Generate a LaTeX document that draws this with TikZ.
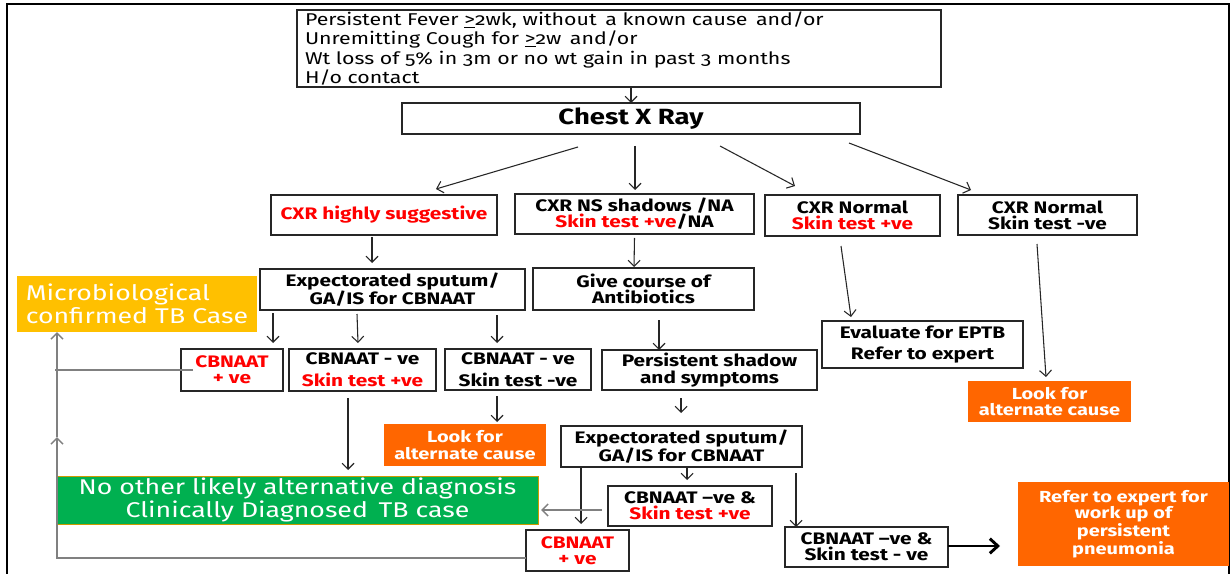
\documentclass[tikz,border=0pt]{standalone}
\usepackage{fontspec}
\setmainfont{Fira Sans}[Numbers=OldStyle, FakeStretch=1.25]
\usetikzlibrary{arrows.meta}
\definecolor{tbred}{HTML}{FF0000}
\definecolor{tborange}{HTML}{FF6600}
\definecolor{tbyellow}{HTML}{FFC000}
\definecolor{tbgreen}{HTML}{00B050}
\definecolor{tbgray}{HTML}{808080}
\definecolor{tbline}{HTML}{262626}
% box placed by its pixel corners: name, x1, y1, x2, y2, style, text
\newcommand\pbox[7]{\node[#6, minimum width={(#4-#2)*0.75pt}, minimum height={(#5-#3)*0.75pt}] (#1) at ({(#2+#4)/2},{(#3+#5)/2}) {#7};}
\newcommand\rd[1]{\textcolor{tbred}{#1}}
\begin{document}
\begin{tikzpicture}[x=0.75pt,y=-0.75pt,
  flowbox/.style={draw=tbline, line width=1.1pt, inner sep=0pt, outer sep=0pt, align=center,
    font=\bfseries\fontsize{12.5}{12.2}\selectfont},
  fillbox/.style={inner sep=0pt, outer sep=0pt, align=center, text=white},
  orangebox/.style={fillbox, fill=tborange, font=\bfseries\fontsize{12}{12.5}\selectfont},
  arr/.style={draw=tbline, line width=0.8pt, -{Straight Barb[length=4.5pt,width=9pt]}},
  grayarr/.style={draw=tbgray, line width=1.1pt, -{Straight Barb[length=4.5pt,width=9pt]}},
  grayline/.style={draw=tbgray, line width=1.1pt},
  thickarr/.style={draw=black, line width=2.2pt, -{Straight Barb[length=6pt,width=11pt]}}]
\useasboundingbox (0,0) rectangle (1232,574);
\fill[white] (0,0) rectangle (1232,574);

% outer frame
\draw[line width=1.6pt, black] (7,580) -- (7,4) -- (1229,4) -- (1229,580);

% boxes
\node[draw=tbline, line width=0.9pt, inner xsep=6pt, inner ysep=0pt, outer sep=0pt,
  minimum height={77*0.75pt}, text width={(644-16)*0.75pt}, align=left,
  font=\fontsize{12.8}{14.6}\selectfont] (top) at (619,48.5)
  {Persistent Fever \underline{>}2wk, without\, a known cause\, and/or\\
   Unremitting Cough for \underline{>}2w\, and/or\\
   Wt loss of 5\% in 3m or no wt gain in past 3 months\\
   H/o contact};
\pbox{cxr}{402}{103}{860}{134}{flowbox, font=\bfseries\fontsize{16.5}{17}\selectfont}{Chest X Ray}
\pbox{hs}{271}{195}{497}{235}{flowbox}{\rd{CXR highly suggestive}}
\pbox{ns}{515}{194}{754}{234}{flowbox}{CXR NS shadows /NA\\\rd{Skin test +ve}/NA}
\pbox{cnp}{765}{195}{940}{236}{flowbox}{CXR Normal\\\rd{Skin test +ve}}
\pbox{cnn}{958}{195}{1137}{235}{flowbox}{CXR Normal\\Skin test -ve}
\pbox{spa}{260}{269}{525}{310}{flowbox}{Expectorated sputum/\\GA/IS for CBNAAT}
\pbox{abx}{533}{268}{754}{310}{flowbox}{Give course of\\Antibiotics}
\pbox{eptb}{822}{321}{1023}{368}{flowbox}{Evaluate for EPTB\\[4pt]Refer to expert}
\pbox{alta}{968}{381}{1131}{422}{orangebox}{Look for\\alternate cause}
\pbox{micro}{17}{276}{257}{332}{fillbox, fill=tbyellow, align=left, font=\fontsize{16}{17}\selectfont}{Microbiological\\confirmed TB Case}
\pbox{cpa}{181}{349}{283}{391}{flowbox}{\rd{CBNAAT}\\\rd{+ ve}}
\pbox{cna}{289}{349}{436}{391}{flowbox}{CBNAAT - ve\\[4.5pt]\rd{Skin test +ve}}
\pbox{cnb}{445}{349}{591}{390}{flowbox}{CBNAAT - ve\\[4.5pt]Skin test -ve}
\pbox{pers}{602}{350}{817}{390}{flowbox}{Persistent shadow\\and symptoms}
\pbox{altb}{384}{424}{546}{466}{orangebox}{Look for\\alternate cause}
\pbox{spb}{561}{426}{802}{467}{flowbox}{Expectorated sputum/\\GA/IS for CBNAAT}
\pbox{clin}{57}{476}{538}{524}{fillbox, fill=tbgreen, draw=tbyellow!80!black, line width=0.6pt, font=\fontsize{16}{17}\selectfont}{No other likely alternative diagnosis\\Clinically Diagnosed\, TB case}
\pbox{cnc}{608}{486}{772}{526}{flowbox}{CBNAAT --ve \&\\\rd{Skin test +ve}}
\pbox{cpb}{526}{530}{629}{571}{flowbox}{\rd{CBNAAT}\\\rd{+ ve}}
\pbox{cnd}{785}{527}{948}{567}{flowbox}{CBNAAT --ve \&\\Skin test - ve}
\pbox{refer}{1018}{482}{1229}{566}{orangebox, font=\bfseries\fontsize{12}{12}\selectfont}{Refer to expert for\\work up of\\persistent\\pneumonia}

% connectors
\draw[arr] (cxr.north |- top.south) -- (cxr.north);
\draw[arr] ([shift={(-53,13)}]cxr.south) -- ([shift={(52,-6)}]hs.north);
\draw[arr] ([shift={(4,12)}]cxr.south) -- ([shift={(0.5,-4)}]ns.north);
\draw[arr] ([shift={(89,12)}]cxr.south) -- ([shift={(-57.5,-9)}]cnp.north);
\draw[arr] ([shift={(218,9)}]cxr.south) -- ([shift={(-76.5,-5)}]cnn.north);
\draw[arr] ([shift={(-12,2)}]hs.south) -- ([shift={(-20.5,-6)}]spa.north);
\draw[arr] ([shift={(0,4)}]ns.south) -- ([shift={(-9.5,-1)}]abx.north);
\draw[arr] ([shift={(-11.5,10)}]cnp.south) -- ([shift={(-71.5,-4)}]eptb.north);
\draw[arr] ([shift={(-10.5,9)}]cnn.south) -- ([shift={(-3.5,-4)}]alta.north);
\draw[arr] ([shift={(-119.5,3)}]spa.south) -- ([shift={(41,-6)}]cpa.north);
\draw[arr] ([shift={(-35.5,4)}]spa.south) -- ([shift={(-4.5,-6)}]cna.north);
\draw[arr] ([shift={(104.5,5)}]spa.south) -- ([shift={(-21,-6)}]cnb.north);
\draw[arr] ([shift={(15.5,10)}]abx.south) -- ([shift={(-50.5,0)}]pers.north);
\draw[arr] ([shift={(-14.5,7)}]cna.south) -- ([shift={(50.5,-6)}]clin.north);
\draw[arr] ([shift={(-21,6)}]cnb.south) -- ([shift={(32,-2)}]altb.north);
\draw[arr] ([shift={(-28.5,8)}]pers.south) -- ([shift={(-0.5,-13)}]spb.north);
\draw[arr] ([shift={(-100.5,1)}]spb.south) -- ([shift={(3.5,-6)}]cpb.north);
\draw[arr] ([shift={(5.5,0)}]spb.south) -- ([shift={(-3,-6)}]cnc.north);
\draw[arr] ([shift={(114.5,6)}]spb.south) -- ([shift={(-70.5,0)}]cnd.north);
\draw[grayarr] ([shift={(-6,4)}]cnc.west) -- ([shift={(3,10)}]clin.east);
\draw[thickarr] ([shift={(0,-1)}]cnd.east) -- ([shift={(-18,22)}]refer.west);

% feedback of positive CBNAAT results to the confirmed case box
\coordinate (fbcorner) at (57,558);
\coordinate (fbmid) at (57,437);
\draw[grayline] ([shift={(12,0)}]cpa.west) -- (cpa.west -| 55,0);
\draw[grayarr] ([shift={(0,7.5)}]cpb.west) -- (fbcorner) -- (fbmid);
\draw[grayarr] (fbmid) -- (fbcorner |- micro.south);
\end{tikzpicture}
\end{document}
